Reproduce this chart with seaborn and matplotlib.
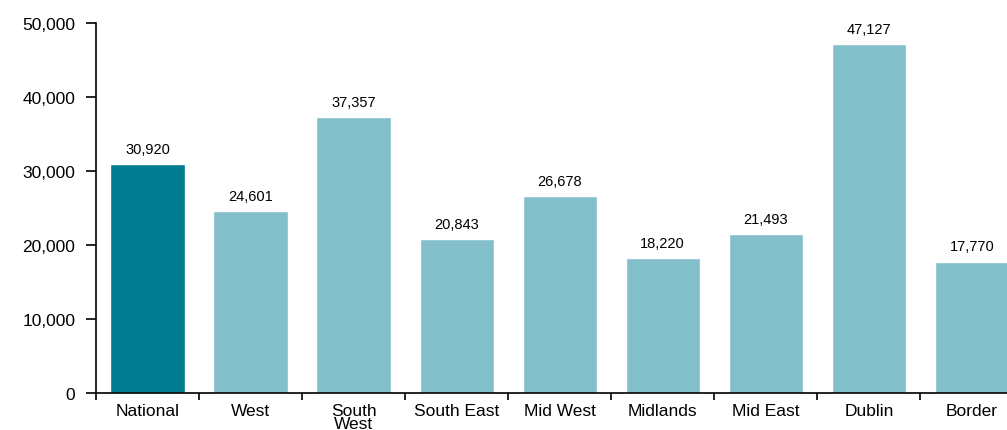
import matplotlib
matplotlib.use("Agg")
import matplotlib.pyplot as plt
import seaborn as sns
import pandas as pd

# Data
regions = ["National", "West", "South\nWest", "South East", "Mid West",
           "Midlands", "Mid East", "Dublin", "Border"]
values = [30920, 24601, 37357, 20843, 26678, 18220, 21493, 47127, 17770]

dark = "#007C91"
light = "#83BFCB"
palette = {r: (dark if r == "National" else light) for r in regions}

df = pd.DataFrame({"region": regions, "value": values})

sns.set_style("white")
plt.rcParams["font.family"] = ["Liberation Sans", "DejaVu Sans"]
plt.rcParams["text.color"] = "black"
plt.rcParams["xtick.color"] = "black"
plt.rcParams["ytick.color"] = "black"

fig = plt.figure(figsize=(10.07, 4.31), dpi=100)
ax = fig.add_axes([0.0953, 0.0858, 0.921, 0.858])

sns.barplot(data=df, x="region", y="value", hue="region", palette=palette,
            legend=False, width=0.72, saturation=1, edgecolor="white",
            linewidth=1, ax=ax)

# value labels above bars
for i, v in enumerate(values):
    ax.text(i, v + 1100, f"{v:,}", ha="center", va="bottom", fontsize=10.5,
            color="black")

ax.set_ylim(0, 50000)
ax.set_xlim(-0.5, 8.5)
ax.set_yticks(range(0, 50001, 10000))
ax.set_yticklabels([f"{t:,}" for t in range(0, 50001, 10000)], fontsize=12.5)
ax.set_xlabel("")
ax.set_ylabel("")

# category tick marks sit between bars
ax.set_xticks(range(len(regions)))
ax.set_xticklabels(regions, fontsize=12.5, linespacing=0.82)
ax.tick_params(axis="x", which="major", bottom=False, length=0, pad=7)
ax.set_xticks([i + 0.5 for i in range(-1, len(regions))], minor=True)
ax.tick_params(axis="x", which="minor", bottom=True, length=5, width=1.2,
               direction="out", color="black")
ax.tick_params(axis="y", left=True, length=7, width=1.2, direction="out",
               color="black", pad=8)

for s in ["top", "right"]:
    ax.spines[s].set_visible(False)
for s in ["left", "bottom"]:
    ax.spines[s].set_color("black")
    ax.spines[s].set_linewidth(1.2)

fig.savefig("out.png", dpi=100)
